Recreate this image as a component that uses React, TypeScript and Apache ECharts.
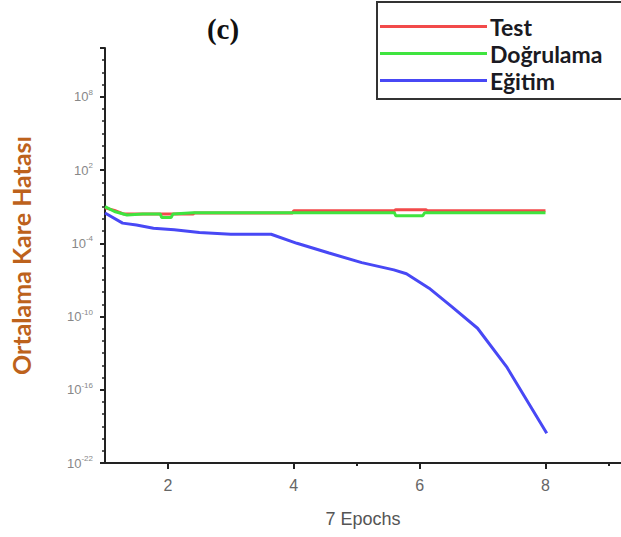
import React, { useEffect, useRef } from "react";
import * as echarts from "echarts";

const testEpochs = [1.0, 1.15, 1.3, 1.56, 2.4, 2.42, 3.98, 4.0, 5.6, 5.62, 6.1, 6.12, 8.0];
const testValues = [0.08, 0.05, 0.025, 0.025, 0.025, 0.031, 0.031, 0.047, 0.047, 0.057, 0.057, 0.047, 0.047];

const valEpochs = [1.0, 1.15, 1.35, 1.6, 1.88, 1.9, 2.05, 2.08, 2.4, 5.6, 5.62, 6.05, 6.08, 8.0];
const valValues = [0.1, 0.04, 0.021, 0.025, 0.025, 0.013, 0.013, 0.025, 0.032, 0.032, 0.018, 0.018, 0.032, 0.032];

const trainEpochs = [1.0, 1.28, 1.5, 1.77, 2.1, 2.5, 3.0, 3.64, 4.05, 4.56, 5.08, 5.59, 5.79, 6.15, 6.51, 6.92, 7.38, 8.02];
const trainValues = [3e-2, 4.5e-3, 3.2e-3, 1.7e-3, 1.3e-3, 7.6e-4, 5.5e-4, 5.5e-4, 1e-4, 1.6e-5, 2.6e-6, 6.6e-7, 3.2e-7, 2.1e-8, 6.5e-10, 1.1e-11, 8e-15, 2.7e-20];

const xTicks = [2, 4, 6, 8];
const xMinorTicks = [5, 9];
// y axis drawn in decades (exponent of 10)
const yMinExp = -22;
const yMaxExp = 12;
const yStepExp = 6;
const seriesNames = ["Test", "Doğrulama", "Eğitim"];

const toLogPairs = (xs: number[], ys: number[]) => xs.map((x, i) => [x, Math.log10(ys[i])]);

export default function App() {
  const ref = useRef<HTMLDivElement>(null);
  useEffect(() => {
    if (!ref.current) return;
    const chart = echarts.init(ref.current, null, { renderer: "svg" });
    const axisCommon = {
      type: "value",
      min: 1,
      max: 9.2,
      splitLine: { show: false },
    };
    chart.setOption({
      animation: false,
      backgroundColor: "#ffffff",
      title: {
        text: "(c)",
        left: 218,
        top: 9,
        textAlign: "center",
        textStyle: { fontFamily: "Liberation Serif", fontWeight: "bold", fontSize: 29, color: "#111" },
      },
      legend: {
        orient: "vertical",
        left: 377,
        top: 2,
        padding: [12, 40, 6, 3],
        borderColor: "#333",
        borderWidth: 2,
        icon: "rect",
        itemWidth: 107,
        itemHeight: 3,
        itemGap: 2,
        data: seriesNames,
        textStyle: { fontFamily: "Lato", fontWeight: "bold", fontSize: 23, color: "#1a1a22", lineHeight: 25, padding: [0, 0, 0, -2] },
      },
      grid: { left: 102, top: 48, bottom: 74, right: -14 },
      xAxis: [
        {
          ...axisCommon,
          name: "7 Epochs",
          nameLocation: "middle",
          nameGap: 47,
          nameTextStyle: { fontFamily: "Liberation Sans", fontSize: 18, color: "#555" },
          axisLine: { show: true, onZero: false, lineStyle: { color: "#222", width: 2 } },
          axisTick: { show: true, customValues: xTicks, length: 6, lineStyle: { color: "#222", width: 2 } },
          axisLabel: {
            customValues: xTicks,
            fontFamily: "Liberation Sans",
            fontSize: 16,
            color: "#666",
            margin: 14,
          },
        },
        {
          ...axisCommon,
          position: "bottom",
          axisLine: { show: false, onZero: false },
          axisTick: { show: true, customValues: xMinorTicks, length: 3, lineStyle: { color: "#222", width: 2 } },
          axisLabel: { show: false },
        },
      ],
      yAxis: {
        type: "value",
        min: yMinExp,
        max: yMaxExp,
        interval: yStepExp,
        name: "Ortalama Kare Hatası",
        nameLocation: "middle",
        nameGap: 72,
        nameRotate: 90,
        nameTextStyle: { fontFamily: "Lato", fontWeight: "bold", fontSize: 25, color: "#bd621c" },
        axisLine: { show: true, onZero: false, lineStyle: { color: "#222", width: 2 } },
        axisTick: { show: true, length: 5, lineStyle: { color: "#222", width: 2 } },
        minorTick: { show: true, splitNumber: 6, length: 3, lineStyle: { color: "#222", width: 1.5 } },
        axisLabel: {
          showMaxLabel: false,
          margin: 12,
          formatter: (v: number) => `{b|10}{s|${Math.round(v)}}`,
          rich: {
            b: { fontFamily: "Liberation Sans", fontSize: 13, color: "#888", lineHeight: 17 },
            s: { fontFamily: "Liberation Sans", fontSize: 8, color: "#888", verticalAlign: "top", lineHeight: 17 },
          },
        },
        splitLine: { show: false },
      },
      series: [
        {
          name: seriesNames[0],
          type: "line",
          data: toLogPairs(testEpochs, testValues),
          symbol: "none",
          lineStyle: { color: "#f24a4a", width: 3 },
          itemStyle: { color: "#f24a4a" },
        },
        {
          name: seriesNames[1],
          type: "line",
          data: toLogPairs(valEpochs, valValues),
          symbol: "none",
          lineStyle: { color: "#3fe43f", width: 3 },
          itemStyle: { color: "#3fe43f" },
        },
        {
          name: seriesNames[2],
          type: "line",
          data: toLogPairs(trainEpochs, trainValues),
          symbol: "none",
          lineStyle: { color: "#4848f5", width: 3 },
          itemStyle: { color: "#4848f5" },
        },
      ],
    });
    return () => chart.dispose();
  }, []);
  return <div ref={ref} style={{ position: "fixed", left: 0, top: 0, width: 621, height: 537 }} />;
}
